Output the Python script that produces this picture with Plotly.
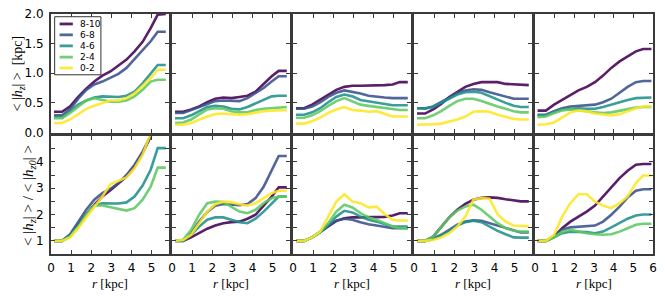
import plotly.graph_objects as go
from plotly.subplots import make_subplots

# ---------------- data ----------------
labels = ["8-10", "6-8", "4-6", "2-4", "0-2"]
colors = ["#440154", "#3b528b", "#21918c", "#5ec962", "#fde725"]

r_a = [0.15, 0.55, 0.95, 1.35, 1.75, 2.15, 2.55, 2.95, 3.35, 3.75, 4.15, 4.55, 4.95, 5.3, 5.7]
r_b = [0.13, 0.55, 0.97, 1.38, 1.8, 2.21, 2.63, 3.05, 3.46, 3.88, 4.3, 4.71, 5.13, 5.5, 5.92]

# top row: <|h_z|> [kpc], order as labels
top_1 = [
    [0.35, 0.35, 0.44, 0.60, 0.74, 0.86, 0.96, 1.03, 1.13, 1.23, 1.37, 1.53, 1.76, 1.99, 2.0],
    [0.29, 0.29, 0.39, 0.57, 0.72, 0.81, 0.86, 0.92, 0.99, 1.09, 1.24, 1.39, 1.54, 1.70, 1.70],
    [0.26, 0.26, 0.36, 0.47, 0.54, 0.59, 0.61, 0.60, 0.60, 0.62, 0.69, 0.83, 1.0, 1.14, 1.14],
    [0.24, 0.24, 0.33, 0.44, 0.54, 0.58, 0.55, 0.52, 0.52, 0.54, 0.61, 0.72, 0.86, 0.89, 0.89],
    [0.16, 0.16, 0.22, 0.31, 0.40, 0.45, 0.50, 0.54, 0.54, 0.58, 0.66, 0.79, 0.92, 1.06, 1.06],
]
top_2 = [
    [0.35, 0.35, 0.39, 0.44, 0.51, 0.57, 0.59, 0.58, 0.60, 0.62, 0.69, 0.82, 0.95, 1.04, 1.04],
    [0.33, 0.33, 0.38, 0.43, 0.49, 0.53, 0.54, 0.53, 0.53, 0.58, 0.66, 0.75, 0.86, 0.95, 0.95],
    [0.24, 0.24, 0.29, 0.36, 0.43, 0.45, 0.44, 0.40, 0.39, 0.43, 0.49, 0.54, 0.61, 0.62, 0.62],
    [0.16, 0.17, 0.22, 0.30, 0.39, 0.41, 0.40, 0.36, 0.34, 0.34, 0.38, 0.40, 0.41, 0.43, 0.43],
    [0.13, 0.13, 0.16, 0.22, 0.27, 0.31, 0.32, 0.31, 0.30, 0.31, 0.34, 0.36, 0.37, 0.38, 0.38],
]
top_3 = [
    [0.41, 0.41, 0.47, 0.55, 0.64, 0.72, 0.77, 0.79, 0.79, 0.79, 0.79, 0.80, 0.81, 0.85, 0.85],
    [0.40, 0.40, 0.44, 0.51, 0.60, 0.67, 0.71, 0.69, 0.66, 0.62, 0.60, 0.59, 0.58, 0.58, 0.58],
    [0.30, 0.30, 0.34, 0.41, 0.51, 0.60, 0.64, 0.61, 0.55, 0.53, 0.51, 0.48, 0.46, 0.46, 0.46],
    [0.25, 0.25, 0.29, 0.36, 0.45, 0.53, 0.58, 0.53, 0.47, 0.45, 0.43, 0.41, 0.39, 0.38, 0.38],
    [0.15, 0.15, 0.19, 0.25, 0.33, 0.39, 0.43, 0.38, 0.37, 0.35, 0.36, 0.32, 0.27, 0.27, 0.27],
]
top_4 = [
    [0.32, 0.32, 0.39, 0.48, 0.60, 0.69, 0.77, 0.82, 0.85, 0.85, 0.85, 0.82, 0.81, 0.80, 0.80],
    [0.41, 0.41, 0.44, 0.51, 0.59, 0.67, 0.71, 0.73, 0.72, 0.68, 0.64, 0.60, 0.57, 0.57, 0.57],
    [0.41, 0.40, 0.43, 0.50, 0.57, 0.64, 0.68, 0.69, 0.67, 0.61, 0.55, 0.50, 0.45, 0.43, 0.43],
    [0.24, 0.24, 0.29, 0.36, 0.45, 0.53, 0.57, 0.57, 0.53, 0.48, 0.44, 0.40, 0.36, 0.34, 0.34],
    [0.13, 0.13, 0.14, 0.15, 0.18, 0.22, 0.27, 0.35, 0.36, 0.35, 0.30, 0.26, 0.23, 0.22, 0.22],
]
top_5 = [
    [0.37, 0.37, 0.47, 0.55, 0.64, 0.71, 0.77, 0.85, 0.96, 1.09, 1.20, 1.29, 1.37, 1.41, 1.41],
    [0.30, 0.30, 0.36, 0.41, 0.44, 0.45, 0.46, 0.47, 0.51, 0.57, 0.67, 0.77, 0.85, 0.87, 0.87],
    [0.29, 0.29, 0.34, 0.39, 0.40, 0.41, 0.40, 0.40, 0.43, 0.47, 0.52, 0.55, 0.58, 0.59, 0.59],
    [0.26, 0.27, 0.33, 0.37, 0.39, 0.38, 0.36, 0.34, 0.33, 0.34, 0.37, 0.40, 0.42, 0.43, 0.43],
    [0.13, 0.14, 0.17, 0.26, 0.34, 0.37, 0.36, 0.32, 0.30, 0.29, 0.31, 0.36, 0.41, 0.44, 0.44],
]

# bottom row: <|h_z|> / <|h_z0|>
bot_1 = [
    [1, 1, 1.20, 1.61, 2.01, 2.37, 2.68, 2.92, 3.17, 3.44, 3.82, 4.33, 4.96, 5.5, 5.6],
    [1, 1, 1.25, 1.73, 2.18, 2.56, 2.81, 2.97, 3.19, 3.50, 3.89, 4.39, 4.96, 5.5, 5.6],
    [1, 1, 1.20, 1.54, 1.99, 2.34, 2.43, 2.42, 2.42, 2.46, 2.68, 3.10, 3.70, 4.52, 4.52],
    [1, 1, 1.16, 1.54, 1.99, 2.34, 2.34, 2.27, 2.20, 2.15, 2.24, 2.56, 3.06, 3.78, 3.78],
    [1, 1, 1.13, 1.48, 1.89, 2.30, 2.68, 3.15, 3.28, 3.41, 3.76, 4.27, 5.09, 5.6, 5.6],
]
bot_2 = [
    [1, 1, 1.13, 1.29, 1.46, 1.58, 1.67, 1.71, 1.73, 1.84, 1.99, 2.34, 2.68, 3.03, 3.03],
    [1, 1.03, 1.29, 1.73, 2.10, 2.33, 2.40, 2.38, 2.35, 2.40, 2.62, 3.05, 3.65, 4.22, 4.22],
    [1, 1, 1.23, 1.54, 1.80, 1.89, 1.89, 1.80, 1.71, 1.67, 1.84, 2.11, 2.43, 2.68, 2.68],
    [1, 1.04, 1.42, 1.99, 2.43, 2.49, 2.47, 2.30, 2.11, 2.05, 2.18, 2.43, 2.62, 2.68, 2.68],
    [1, 1.03, 1.23, 1.67, 2.11, 2.39, 2.49, 2.47, 2.39, 2.34, 2.43, 2.62, 2.81, 2.90, 2.90],
]
bot_3 = [
    [1, 1, 1.13, 1.35, 1.57, 1.76, 1.86, 1.89, 1.89, 1.89, 1.89, 1.91, 1.96, 2.05, 2.05],
    [1, 1, 1.13, 1.33, 1.57, 1.76, 1.84, 1.80, 1.71, 1.63, 1.58, 1.53, 1.48, 1.48, 1.48],
    [1, 1, 1.13, 1.33, 1.61, 1.92, 2.14, 2.08, 1.92, 1.80, 1.73, 1.63, 1.54, 1.54, 1.54],
    [1, 1, 1.13, 1.35, 1.67, 2.11, 2.37, 2.27, 2.05, 1.89, 1.80, 1.67, 1.54, 1.48, 1.48],
    [1, 1, 1.13, 1.35, 1.92, 2.49, 2.77, 2.49, 2.43, 2.27, 2.30, 2.01, 1.80, 1.77, 1.77],
]
bot_4 = [
    [1, 1, 1.16, 1.54, 1.89, 2.18, 2.40, 2.56, 2.63, 2.65, 2.63, 2.58, 2.53, 2.50, 2.50],
    [1, 1, 1.08, 1.23, 1.42, 1.61, 1.73, 1.78, 1.76, 1.67, 1.57, 1.48, 1.38, 1.32, 1.32],
    [1, 1, 1.08, 1.20, 1.38, 1.58, 1.71, 1.76, 1.71, 1.54, 1.38, 1.25, 1.13, 1.12, 1.12],
    [1, 1, 1.16, 1.54, 1.89, 2.15, 2.30, 2.37, 2.18, 1.92, 1.67, 1.48, 1.38, 1.35, 1.35],
    [1, 1, 1.03, 1.13, 1.29, 1.54, 1.92, 2.56, 2.62, 2.60, 2.01, 1.73, 1.58, 1.56, 1.56],
]
bot_5 = [
    [1, 1, 1.16, 1.48, 1.73, 1.92, 2.11, 2.34, 2.68, 3.06, 3.38, 3.66, 3.89, 3.92, 3.92],
    [1, 1, 1.16, 1.42, 1.51, 1.54, 1.56, 1.58, 1.73, 1.99, 2.30, 2.65, 2.90, 2.96, 2.96],
    [1, 1, 1.13, 1.29, 1.35, 1.35, 1.33, 1.29, 1.35, 1.51, 1.67, 1.84, 1.96, 2.00, 2.00],
    [1, 1, 1.13, 1.35, 1.42, 1.35, 1.29, 1.25, 1.23, 1.25, 1.35, 1.48, 1.61, 1.65, 1.65],
    [1, 1, 1.23, 1.92, 2.43, 2.77, 2.77, 2.49, 2.34, 2.24, 2.43, 2.68, 3.19, 3.48, 3.48],
]

top_rows = [top_1, top_2, top_3, top_4, top_5]
bot_rows = [bot_1, bot_2, bot_3, bot_4, bot_5]
r_grids = [r_a, r_a, r_a, r_a, r_b]
x_max = [5.86, 5.86, 5.86, 5.86, 6.0]

top_ticks = [0.0, 0.5, 1.0, 1.5, 2.0]
bot_ticks = [1, 2, 3, 4]
bot_minor = [0.5, 1.5, 2.5, 3.5, 4.5, 5]

# ---------------- figure ----------------
# the page body adds an 8px offset, so the figure is 8px smaller
W, H = 657, 290
ml, mr, mt, mb = 43, 12, 6, 44
pw = W - ml - mr
ph = H - mt - mb

fig = make_subplots(rows=2, cols=5,
                    horizontal_spacing=3 / pw,
                    vertical_spacing=3 / ph)

tick_font = dict(family="DejaVu Sans", size=12, color="black")
axcol = "#3a3a3a"
common = dict(ticks="inside", ticklen=4, tickwidth=1, tickcolor=axcol,
              showline=True, linecolor=axcol, linewidth=2, mirror="allticks",
              showgrid=False, zeroline=False, tickfont=tick_font,
              automargin=False, ticklabeloverflow="allow")

for c in range(5):
    for row, data in ((1, top_rows[c]), (2, bot_rows[c])):
        for k in range(5):
            fig.add_trace(go.Scatter(
                x=r_grids[c], y=data[k], mode="lines",
                line=dict(color=colors[k], width=2.6),
                opacity=0.88, showlegend=False, hoverinfo="skip"),
                row=row, col=c + 1)

    xt = list(range(0, int(x_max[c]) + 1))
    for row in (1, 2):
        fig.update_xaxes(
            range=[0, x_max[c]], tickvals=xt,
            ticktext=[str(v) for v in xt],
            showticklabels=(row == 2), ticklabelstandoff=2,
            row=row, col=c + 1, **common)
    fig.update_yaxes(
        range=[0, 2], tickvals=top_ticks,
        ticktext=["%.1f" % v for v in top_ticks],
        showticklabels=(c == 0), ticklabelstandoff=3,
        row=1, col=c + 1, **common)
    fig.update_yaxes(
        range=[0.5, 5], tickvals=bot_ticks,
        ticktext=[str(v) for v in bot_ticks],
        minor=dict(tickvals=bot_minor, ticks="inside", ticklen=4,
                   tickwidth=1, tickcolor=axcol, showgrid=False),
        showticklabels=(c == 0), ticklabelstandoff=3,
        row=2, col=c + 1, **common)

    # x axis title under each bottom panel
    fig.add_annotation(
        text="<i>r</i> [kpc]", xref="x%d domain" % (c + 6), yref="y%d domain" % (c + 6),
        x=0.5, y=-0.245, xanchor="center", yanchor="middle", showarrow=False,
        font=dict(family="Liberation Serif", size=13, color="black"))

# y axis titles
fig.add_annotation(
    text="&lt;&nbsp;|<i>h<sub>z</sub></i>|&nbsp;&gt;&nbsp;&nbsp;[kpc]",
    xref="paper", yref="paper",
    x=(19 - 51) / pw, y=0.752, xanchor="center", yanchor="middle", textangle=-90,
    showarrow=False, borderpad=0,
    font=dict(family="Liberation Serif", size=14, color="black"))
fig.add_annotation(
    text="&lt;&nbsp;|<i>h<sub>z</sub></i>|&nbsp;&gt;&nbsp;/&nbsp;&lt;&nbsp;|<i>h<sub>z0</sub></i>|&nbsp;&gt;",
    xref="paper", yref="paper",
    x=(29 - 51) / pw, y=0.246, xanchor="center", yanchor="middle", textangle=-90,
    showarrow=False, borderpad=0,
    font=dict(family="Liberation Serif", size=15, color="black"))

# legend (drawn inside first panel)
fig.add_shape(type="rect", xref="x domain", yref="y domain",
              x0=0.031, x1=0.423, y0=0.487, y1=0.977,
              line=dict(color="#333333", width=1), fillcolor="white")
leg_y = [0.916, 0.824, 0.731, 0.636, 0.544]
for k in range(5):
    fig.add_shape(type="line", xref="x domain", yref="y domain",
                  x0=0.073, x1=0.185, y0=leg_y[k], y1=leg_y[k],
                  line=dict(color=colors[k], width=2.8), opacity=0.88)
    fig.add_annotation(text=labels[k], xref="x domain", yref="y domain",
                       x=0.233, y=leg_y[k], xanchor="left", yanchor="middle",
                       showarrow=False,
                       font=dict(family="DejaVu Sans", size=9, color="black"))

fig.update_layout(
    width=W, height=H,
    margin=dict(l=ml, r=mr, t=mt, b=mb, autoexpand=False),
    plot_bgcolor="white", paper_bgcolor="white",
    showlegend=False,
)

fig.write_html("out.html")
